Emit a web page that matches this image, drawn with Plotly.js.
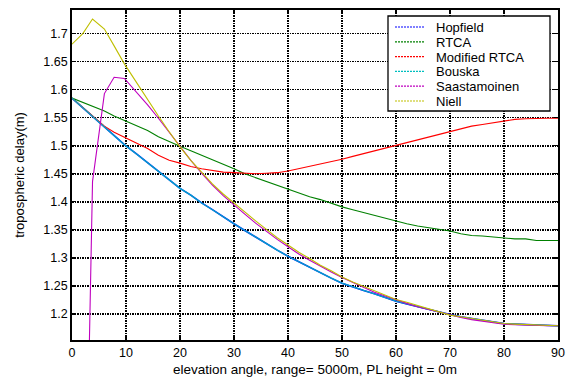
<!DOCTYPE html>
<html>
<head>
<meta charset="utf-8">
<script src="https://cdn.plot.ly/plotly-3.0.1.min.js"></script>
<style>
  html, body { margin: 0; padding: 0; background: #ffffff; }
  #chart { width: 569px; height: 381px; }
</style>
</head>
<body>
<div id="chart"></div>
<script>
// ---- data ----
const elevation = [0, 2, 3.8, 6, 7.8, 9.7, 12, 14, 16, 18, 20, 22, 24, 26, 28, 30, 32, 34, 36, 38, 40,
  42, 44, 46, 48, 50, 52, 54, 56, 58, 60, 62, 64, 66, 68, 70, 72, 74, 76, 78, 80, 82, 84, 86, 88, 90];

const hopfield = [1.585, 1.568, 1.553, 1.534, 1.519, 1.502, 1.485, 1.470, 1.455, 1.440, 1.424, 1.412, 1.398, 1.386, 1.373, 1.361, 1.349, 1.337, 1.326, 1.314, 1.303,
  1.293, 1.283, 1.273, 1.264, 1.255, 1.248, 1.242, 1.236, 1.229, 1.223, 1.218, 1.213, 1.208, 1.203, 1.199, 1.195, 1.192, 1.189, 1.186, 1.183, 1.182, 1.181, 1.180, 1.179, 1.179];

const rtca = [1.585, 1.577, 1.571, 1.562, 1.553, 1.545, 1.535, 1.527, 1.516, 1.507, 1.499, 1.491, 1.483, 1.476, 1.467, 1.459, 1.450, 1.443, 1.436, 1.429, 1.423,
  1.415, 1.409, 1.404, 1.397, 1.391, 1.386, 1.381, 1.376, 1.371, 1.365, 1.361, 1.357, 1.354, 1.351, 1.348, 1.343, 1.340, 1.339, 1.337, 1.335, 1.334, 1.334, 1.331, 1.331, 1.331];

const modifiedRtca = [1.585, 1.568, 1.553, 1.535, 1.524, 1.515, 1.504, 1.495, 1.483, 1.474, 1.469, 1.463, 1.459, 1.456, 1.453, 1.452, 1.451, 1.450, 1.451, 1.452, 1.455,
  1.459, 1.463, 1.467, 1.471, 1.476, 1.481, 1.486, 1.490, 1.495, 1.500, 1.506, 1.511, 1.516, 1.521, 1.526, 1.530, 1.535, 1.538, 1.541, 1.544, 1.547, 1.548, 1.549, 1.549, 1.549];

const bouska = [1.585, 1.568, 1.553, 1.534, 1.519, 1.502, 1.485, 1.470, 1.455, 1.440, 1.424, 1.412, 1.398, 1.386, 1.373, 1.361, 1.349, 1.337, 1.326, 1.314, 1.303,
  1.293, 1.283, 1.273, 1.264, 1.255, 1.248, 1.242, 1.236, 1.229, 1.223, 1.218, 1.213, 1.208, 1.203, 1.199, 1.195, 1.192, 1.189, 1.186, 1.183, 1.182, 1.181, 1.180, 1.179, 1.179];

const saastamoinen = [null, 0.549, 1.436, 1.593, 1.622, 1.620, 1.595, 1.573, 1.549, 1.524, 1.497, 1.474, 1.451, 1.430, 1.411, 1.394, 1.378, 1.362, 1.347, 1.333, 1.320,
  1.307, 1.296, 1.285, 1.275, 1.265, 1.256, 1.247, 1.239, 1.232, 1.225, 1.219, 1.213, 1.208, 1.203, 1.198, 1.194, 1.190, 1.187, 1.184, 1.182, 1.181, 1.180, 1.180, 1.179, 1.179];

const niell = [1.681, 1.700, 1.726, 1.708, 1.678, 1.646, 1.612, 1.582, 1.553, 1.525, 1.498, 1.474, 1.452, 1.432, 1.414, 1.398, 1.381, 1.366, 1.351, 1.336, 1.323,
  1.310, 1.299, 1.287, 1.277, 1.266, 1.257, 1.249, 1.241, 1.233, 1.226, 1.221, 1.215, 1.210, 1.204, 1.198, 1.195, 1.192, 1.189, 1.186, 1.183, 1.182, 1.181, 1.180, 1.179, 1.179];

const seriesNames = ["Hopfield", "RTCA", "Modified RTCA", "Bouska", "Saastamoinen", "Niell"];
const seriesValues = [hopfield, rtca, modifiedRtca, bouska, saastamoinen, niell];

const xTickValues = [0, 10, 20, 30, 40, 50, 60, 70, 80, 90];
const xTickLabels = ["0", "10", "20", "30", "40", "50", "60", "70", "80", "90"];
const yTickValues = [1.2, 1.25, 1.3, 1.35, 1.4, 1.45, 1.5, 1.55, 1.6, 1.65, 1.7];
const yTickLabels = ["1.2", "1.25", "1.3", "1.35", "1.4", "1.45", "1.5", "1.55", "1.6", "1.65", "1.7"];

const xTitle = "elevation angle, range= 5000m, PL height = 0m";
const yTitle = "tropospheric delay(m)";

// ---- styles ----
const colors = ["#0000ff", "#008000", "#ff0000", "#00bfbf", "#bf00bf", "#bfbf00"];
const widths = [1.6, 1.1, 1.1, 1.3, 1.1, 1.1];
const opac = [1, 1, 1, 0.85, 1, 1];
const FONT = "Liberation Sans, Arial, sans-serif";

const traces = seriesNames.map((name, i) => ({
  type: "scatter",
  mode: "lines",
  name: name,
  x: elevation,
  y: seriesValues[i],
  line: { color: colors[i], width: widths[i] },
  opacity: opac[i],
  connectgaps: false,
  showlegend: false,
  hoverinfo: "skip"
}));

// plot area in pixels
const L = 72, R = 558, T = 10, B = 340;
const W = 569, H = 381;
const px = v => (v - L) / (R - L);
const py = v => (B - v) / (B - T);

// custom legend (box, sample lines and real text)
const shapes = [];
const annotations = [];
shapes.push({
  type: "rect", xref: "paper", yref: "paper",
  x0: px(388), x1: px(550), y0: py(16), y1: py(111),
  line: { color: "#000", width: 1.3 }, fillcolor: "#ffffff", layer: "above"
});
seriesNames.forEach((name, i) => {
  const yc = 27 + 14.8 * i;
  shapes.push({
    type: "line", xref: "paper", yref: "paper",
    x0: px(395), x1: px(425), y0: py(yc), y1: py(yc),
    line: { color: colors[i], width: 1.2, dash: "2px,1px" }, layer: "above"
  });
  annotations.push({
    xref: "paper", yref: "paper", x: px(434), y: py(yc + 0.5),
    xanchor: "left", yanchor: "middle", showarrow: false,
    text: name, font: { family: FONT, size: 13, color: "#000" }
  });
});

const layout = {
  width: W, height: H,
  margin: { l: L, r: W - R, t: T, b: H - B, pad: 0 },
  paper_bgcolor: "#ffffff",
  plot_bgcolor: "#ffffff",
  showlegend: false,
  font: { family: FONT, size: 12.5, color: "#000" },
  xaxis: {
    range: [0, 90],
    tickvals: xTickValues, ticktext: xTickLabels,
    ticks: "inside", ticklen: 4, tickcolor: "#000", tickwidth: 1.2,
    showline: true, linecolor: "#000", linewidth: 1.8, mirror: "ticks",
    showgrid: true, gridcolor: "#000", gridwidth: 1.5, griddash: "1.5px,1px",
    zeroline: false,
    tickfont: { family: FONT, size: 12.5, color: "#000" },
    title: { text: xTitle, font: { family: FONT, size: 13.5, color: "#000" }, standoff: 6 }
  },
  yaxis: {
    range: [1.1537, 1.742],
    tickvals: yTickValues, ticktext: yTickLabels,
    ticks: "inside", ticklen: 4, tickcolor: "#000", tickwidth: 1.2,
    showline: true, linecolor: "#000", linewidth: 1.8, mirror: "ticks",
    showgrid: true, gridcolor: "#000", gridwidth: 1.5, griddash: "1.5px,1px",
    zeroline: false,
    tickfont: { family: FONT, size: 12.5, color: "#000" },
    title: { text: yTitle, font: { family: FONT, size: 13, color: "#000" }, standoff: 16 }
  },
  shapes: shapes,
  annotations: annotations
};

Plotly.newPlot("chart", traces, layout, { displayModeBar: false, staticPlot: true });
</script>
</body>
</html>
